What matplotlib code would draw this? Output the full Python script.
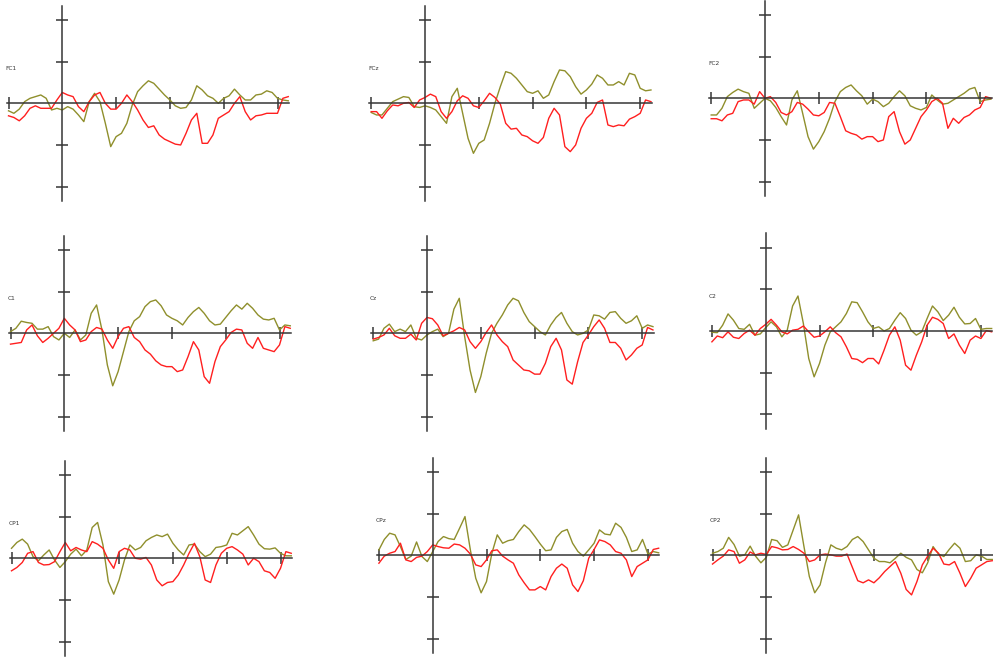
import matplotlib
matplotlib.use("Agg")
import matplotlib.pyplot as plt
import numpy as np

# time axis (ms), one sample every 20 ms
t = np.arange(-200, 841, 20)

names = ["FC1", "FCz", "FC2", "C1", "Cz", "C2", "CP1", "CPz", "CP2"]

fc1_olive = [-0.18, -0.24, -0.14, 0.04, 0.12, 0.16, 0.20, 0.12, -0.16, -0.12,
             -0.16, -0.08, -0.14, -0.28, -0.44, 0.04, 0.24, 0.04, -0.48, -1.04,
             -0.80, -0.72, -0.48, -0.04, 0.28, 0.42, 0.54, 0.48, 0.34, 0.20,
             0.08, -0.06, -0.12, -0.10, 0.08, 0.42, 0.32, 0.18, 0.12, 0.00,
             0.12, 0.18, 0.34, 0.20, 0.08, 0.08, 0.20, 0.22, 0.30, 0.26,
             0.12, 0.08, 0.06]
fc1_red = [-0.30, -0.34, -0.42, -0.30, -0.12, -0.06, -0.12, -0.12, -0.12, 0.08,
           0.26, 0.20, 0.16, -0.08, -0.20, 0.04, 0.20, 0.26, 0.00, -0.14,
           -0.14, 0.00, 0.20, 0.04, -0.16, -0.40, -0.58, -0.54, -0.76, -0.86,
           -0.92, -0.98, -1.00, -0.72, -0.40, -0.24, -0.96, -0.96, -0.76, -0.36,
           -0.28, -0.20, 0.00, 0.16, -0.20, -0.40, -0.30, -0.28, -0.24, -0.24,
           -0.24, 0.12, 0.16]

fcz_olive = [-0.22, -0.28, -0.28, -0.12, 0.04, 0.10, 0.16, 0.14, -0.08, -0.10,
             -0.06, -0.10, -0.16, -0.32, -0.48, 0.16, 0.36, -0.24, -0.84, -1.20,
             -0.96, -0.88, -0.48, 0.00, 0.40, 0.76, 0.72, 0.60, 0.44, 0.28,
             0.24, 0.30, 0.12, 0.20, 0.52, 0.80, 0.78, 0.64, 0.40, 0.22,
             0.32, 0.46, 0.68, 0.60, 0.44, 0.44, 0.52, 0.44, 0.72, 0.68,
             0.36, 0.30, 0.32]
fcz_red = [-0.20, -0.20, -0.36, -0.18, -0.04, -0.06, 0.00, 0.02, -0.10, 0.08,
           0.14, 0.22, 0.16, -0.20, -0.36, -0.20, 0.06, 0.18, 0.12, -0.06,
           -0.10, 0.06, 0.24, 0.14, -0.02, -0.48, -0.62, -0.60, -0.76, -0.80,
           -0.90, -0.96, -0.82, -0.36, -0.12, -0.28, -1.04, -1.16, -1.00, -0.60,
           -0.36, -0.24, 0.02, 0.08, -0.52, -0.56, -0.52, -0.54, -0.38, -0.32,
           -0.24, 0.08, 0.04]

fc2_olive = [-0.40, -0.40, -0.24, 0.04, 0.14, 0.22, 0.16, 0.12, -0.24, -0.12,
             0.00, -0.06, -0.22, -0.44, -0.64, -0.04, 0.18, -0.36, -0.92, -1.22,
             -1.04, -0.80, -0.48, -0.08, 0.16, 0.26, 0.32, 0.18, 0.06, -0.14,
             -0.02, -0.08, -0.20, -0.12, 0.04, 0.18, 0.06, -0.18, -0.24, -0.28,
             -0.22, 0.08, -0.04, -0.14, -0.12, -0.04, 0.04, 0.12, 0.22, 0.26,
             -0.08, -0.04, -0.02]
fc2_red = [-0.49, -0.49, -0.54, -0.40, -0.36, -0.08, -0.04, -0.04, -0.14, 0.16,
           0.00, 0.04, -0.10, -0.34, -0.40, -0.32, -0.10, -0.14, -0.26, -0.40,
           -0.42, -0.34, -0.10, -0.12, -0.44, -0.78, -0.84, -0.88, -0.98, -0.92,
           -0.92, -1.04, -1.00, -0.44, -0.32, -0.80, -1.10, -1.00, -0.72, -0.44,
           -0.28, -0.08, 0.00, -0.12, -0.72, -0.48, -0.60, -0.46, -0.40, -0.28,
           -0.22, 0.04, 0.00]

c1_olive = [0.04, 0.12, 0.29, 0.26, 0.24, 0.10, 0.10, 0.16, -0.08, -0.16,
            0.00, -0.10, 0.08, -0.16, -0.04, 0.48, 0.68, 0.08, -0.76, -1.26,
            -0.92, -0.44, 0.04, 0.30, 0.40, 0.64, 0.76, 0.80, 0.66, 0.44,
            0.36, 0.30, 0.20, 0.38, 0.52, 0.62, 0.48, 0.30, 0.20, 0.22,
            0.38, 0.54, 0.68, 0.58, 0.72, 0.60, 0.44, 0.34, 0.32, 0.36,
            0.08, 0.20, 0.18]
c1_red = [-0.26, -0.24, -0.22, 0.08, 0.20, -0.06, -0.22, -0.12, 0.00, 0.12,
          0.36, 0.20, 0.08, -0.20, -0.16, 0.04, 0.14, 0.10, -0.16, -0.36,
          -0.08, 0.12, 0.16, -0.10, -0.20, -0.40, -0.50, -0.66, -0.76, -0.80,
          -0.80, -0.92, -0.88, -0.56, -0.20, -0.40, -1.04, -1.20, -0.68, -0.32,
          -0.16, 0.02, 0.10, 0.08, -0.24, -0.36, -0.10, -0.36, -0.40, -0.44,
          -0.28, 0.16, 0.12]

cz_olive = [-0.18, -0.14, 0.12, 0.22, 0.04, 0.10, 0.04, 0.20, -0.12, -0.16,
            -0.04, 0.04, 0.10, -0.08, 0.00, 0.58, 0.84, -0.08, -0.88, -1.42,
            -1.04, -0.48, 0.00, 0.24, 0.44, 0.68, 0.84, 0.78, 0.50, 0.28,
            0.16, 0.04, -0.04, 0.20, 0.38, 0.50, 0.24, 0.04, -0.04, 0.00,
            0.08, 0.44, 0.42, 0.34, 0.50, 0.52, 0.36, 0.24, 0.30, 0.42,
            0.12, 0.20, 0.16]
cz_red = [-0.14, -0.10, -0.04, 0.12, -0.06, -0.12, -0.12, -0.02, -0.16, 0.24,
          0.38, 0.35, 0.20, -0.06, 0.00, 0.06, 0.14, 0.08, -0.20, -0.36,
          -0.20, 0.02, 0.20, -0.04, -0.20, -0.32, -0.64, -0.76, -0.88, -0.90,
          -0.98, -0.98, -0.72, -0.32, -0.12, -0.40, -1.12, -1.22, -0.68, -0.22,
          -0.04, 0.16, 0.32, 0.12, -0.22, -0.22, -0.36, -0.64, -0.52, -0.36,
          -0.28, 0.14, 0.08]

c2_olive = [-0.03, -0.04, 0.14, 0.41, 0.26, 0.06, 0.04, 0.16, -0.10, -0.07,
            0.08, 0.22, 0.10, -0.14, 0.02, 0.60, 0.84, 0.18, -0.66, -1.10,
            -0.78, -0.34, -0.02, 0.10, 0.22, 0.42, 0.70, 0.68, 0.46, 0.22,
            0.06, 0.10, 0.00, 0.06, 0.26, 0.44, 0.30, 0.02, -0.10, -0.02,
            0.30, 0.60, 0.46, 0.25, 0.38, 0.57, 0.33, 0.17, 0.18, 0.30,
            0.04, 0.06, 0.06]
c2_red = [-0.26, -0.12, -0.16, -0.02, -0.15, -0.18, -0.06, 0.02, -0.10, 0.06,
          0.16, 0.28, 0.14, -0.02, -0.07, 0.02, 0.04, 0.12, -0.02, -0.15,
          -0.12, -0.02, 0.10, -0.04, -0.14, -0.38, -0.66, -0.68, -0.76, -0.66,
          -0.66, -0.79, -0.46, -0.10, 0.10, -0.22, -0.82, -0.94, -0.58, -0.26,
          0.14, 0.33, 0.28, 0.18, -0.18, -0.07, -0.34, -0.54, -0.22, -0.12,
          -0.18, 0.01, -0.02]

cp1_olive = [0.24, 0.38, 0.46, 0.34, 0.04, -0.06, 0.08, 0.20, -0.04, -0.22,
             -0.08, 0.10, 0.22, 0.06, 0.20, 0.74, 0.86, 0.32, -0.56, -0.86,
             -0.52, -0.04, 0.32, 0.20, 0.26, 0.42, 0.50, 0.56, 0.52, 0.58,
             0.36, 0.20, 0.08, 0.32, 0.34, 0.16, 0.04, 0.10, 0.26, 0.28,
             0.32, 0.60, 0.56, 0.66, 0.76, 0.56, 0.34, 0.23, 0.22, 0.25,
             0.12, 0.06, 0.06]
cp1_red = [-0.30, -0.22, -0.10, 0.12, 0.16, -0.10, -0.16, -0.15, -0.08, 0.16,
           0.38, 0.18, 0.26, 0.20, 0.16, 0.40, 0.34, 0.24, -0.04, -0.24,
           0.16, 0.24, 0.20, 0.00, -0.02, 0.02, -0.16, -0.52, -0.66, -0.58,
           -0.56, -0.40, -0.16, 0.12, 0.36, 0.04, -0.52, -0.58, -0.16, 0.12,
           0.24, 0.28, 0.20, 0.10, -0.16, 0.00, -0.08, -0.30, -0.34, -0.48,
           -0.24, 0.16, 0.12]

cpz_olive = [0.13, 0.38, 0.53, 0.49, 0.21, -0.10, -0.02, 0.32, -0.03, -0.15,
             0.09, 0.33, 0.45, 0.40, 0.38, 0.65, 0.93, 0.13, -0.55, -0.90,
             -0.63, 0.05, 0.49, 0.29, 0.35, 0.38, 0.57, 0.73, 0.62, 0.45,
             0.27, 0.11, 0.13, 0.43, 0.57, 0.62, 0.29, 0.09, -0.02, 0.13,
             0.29, 0.61, 0.51, 0.49, 0.77, 0.67, 0.43, 0.09, 0.13, 0.38,
             0.03, 0.09, 0.06]
cpz_red = [-0.19, -0.02, 0.05, 0.09, 0.29, -0.11, -0.15, -0.05, -0.02, 0.09,
           0.25, 0.21, 0.18, 0.17, 0.27, 0.25, 0.17, 0.03, -0.23, -0.27,
           -0.11, 0.11, 0.13, -0.02, -0.11, -0.19, -0.47, -0.66, -0.83, -0.83,
           -0.75, -0.83, -0.51, -0.31, -0.21, -0.31, -0.71, -0.87, -0.61, -0.07,
           0.14, 0.37, 0.33, 0.25, 0.09, 0.05, -0.11, -0.51, -0.27, -0.19,
           -0.11, 0.14, 0.17]

cp2_olive = [0.05, 0.09, 0.17, 0.43, 0.26, -0.02, 0.01, 0.22, -0.02, -0.18,
             -0.05, 0.38, 0.35, 0.19, 0.25, 0.61, 0.97, 0.21, -0.51, -0.90,
             -0.71, -0.18, 0.25, 0.17, 0.13, 0.21, 0.38, 0.45, 0.33, 0.13,
             -0.07, -0.15, -0.15, -0.18, -0.07, 0.05, -0.05, -0.11, -0.34, -0.42,
             -0.18, 0.21, 0.03, -0.03, 0.14, 0.29, 0.17, -0.15, -0.13, 0.01,
             -0.02, -0.10, -0.10]
cp2_red = [-0.21, -0.11, -0.02, 0.13, 0.09, -0.19, -0.11, 0.08, 0.01, 0.05,
           0.02, 0.21, 0.18, 0.13, 0.14, 0.21, 0.14, 0.05, -0.15, -0.11,
           0.01, 0.03, 0.01, -0.02, -0.02, 0.03, -0.29, -0.61, -0.66, -0.59,
           -0.66, -0.54, -0.39, -0.27, -0.15, -0.43, -0.82, -0.95, -0.63, -0.23,
           -0.02, 0.17, 0.05, -0.21, -0.23, -0.15, -0.43, -0.75, -0.55, -0.31,
           -0.23, -0.15, -0.13]

olive = [fc1_olive, fcz_olive, fc2_olive, c1_olive, cz_olive, c2_olive,
         cp1_olive, cpz_olive, cp2_olive]
red = [fc1_red, fcz_red, fc2_red, c1_red, cz_red, c2_red,
       cp1_red, cpz_red, cp2_red]

# pixel position of each panel's origin (t=0, value=0) in the 993x658 image
origins = [(62.3, 103.3), (425.0, 103.3), (765.0, 98.3),
           (64.3, 333.3), (427.0, 333.3), (765.7, 331.0),
           (65.3, 558.3), (432.7, 555.3), (766.3, 555.3)]

W, H = 993, 658
sx = 53.8 / 200.0   # px per ms
sy = 41.67          # px per unit
xlim = (-240, 870)
ylim = (-2.45, 2.45)

fig = plt.figure(figsize=(W / 100, H / 100), dpi=100)
fig.patch.set_facecolor("white")

axis_col = "#363636"
for name, ol, rd, (ox, oy) in zip(names, olive, red, origins):
    left = ox + xlim[0] * sx
    width = (xlim[1] - xlim[0]) * sx
    top = oy - ylim[1] * sy
    height = (ylim[1] - ylim[0]) * sy
    ax = fig.add_axes([left / W, 1 - (top + height) / H, width / W, height / H])
    ax.set_xlim(xlim)
    ax.set_ylim(ylim)
    ax.patch.set_alpha(0)

    ax.plot(t, ol, color="#8f8f2c", lw=1.0)
    ax.plot(t, rd, color="#ff1f1f", lw=1.0)

    for s in ["top", "right"]:
        ax.spines[s].set_visible(False)
    ax.spines["left"].set_position(("data", 0))
    ax.spines["bottom"].set_position(("data", 0))
    ax.spines["left"].set_bounds(-2.34, 2.34)
    ax.spines["bottom"].set_bounds(-207, 843)
    for s in ["left", "bottom"]:
        ax.spines[s].set_color(axis_col)
        ax.spines[s].set_linewidth(1.1)

    ax.set_xticks([-200, 200, 400, 600, 800])
    ax.set_yticks([-2, -1, 1, 2])
    ax.tick_params(direction="inout", length=8, width=1.1, color=axis_col,
                   labelbottom=False, labelleft=False)

    ax.text(-212, 0.83, name, fontsize=4.2, color="#333333",
            ha="left", va="center")

fig.savefig("out.png", dpi=100)
